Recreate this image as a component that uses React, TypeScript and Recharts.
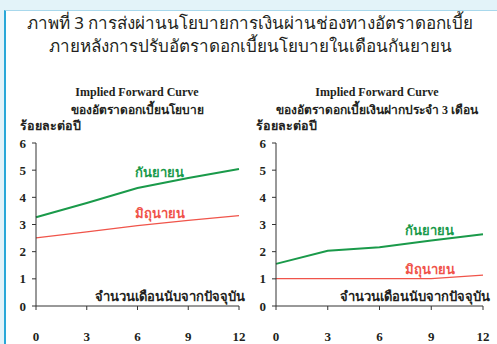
import React from "react";
import { LineChart, Line, XAxis, YAxis } from "recharts";

const months = [0, 3, 6, 9, 12];
const policySep = [3.27, 3.79, 4.34, 4.71, 5.04];
const policyJun = [2.51, 2.73, 2.96, 3.15, 3.33];
const depositSep = [1.55, 2.03, 2.16, 2.41, 2.64];
const depositJun = [1.01, 1.01, 1.01, 1.01, 1.14];
const yTicks = [0, 1, 2, 3, 4, 5, 6];
const xTicks = [0, 3, 6, 9, 12];

const titleLine1 = "ภาพที่ 3 การส่งผ่านนโยบายการเงินผ่านช่องทางอัตราดอกเบี้ย";
const titleLine2 = "ภายหลังการปรับอัตราดอกเบี้ยนโยบายในเดือนกันยายน";
const subTitleEn = "Implied Forward Curve";
const subTitleLeft = "ของอัตราดอกเบี้ยนโยบาย";
const subTitleRight = "ของอัตราดอกเบี้ยเงินฝากประจำ 3 เดือน";
const yUnit = "ร้อยละต่อปี";
const xUnit = "จำนวนเดือนนับจากปัจจุบัน";
const sepLabel = "กันยายน";
const junLabel = "มิถุนายน";

const GREEN = "#1a9a4a";
const RED = "#f0544a";
const TEXT = "#231f20";
const SERIF = "'Liberation Serif', 'DejaVu Serif', serif";

const build = (sep: number[], jun: number[]) =>
  months.map((m, i) => ({ m, sep: sep[i], jun: jun[i] }));

const abs = (
  left: number,
  top: number,
  extra: React.CSSProperties = {}
): React.CSSProperties => ({
  position: "absolute",
  left,
  top,
  whiteSpace: "nowrap",
  lineHeight: 1,
  ...extra,
});

function Panel({
  data,
  left,
  width,
  right,
}: {
  data: { m: number; sep: number; jun: number }[];
  left: number;
  width: number;
  right: number;
}) {
  return (
    <div style={{ position: "absolute", left, top: 0 }}>
      <LineChart
        width={width}
        height={344}
        data={data}
        margin={{ top: 143, right, bottom: 0, left: 0 }}
      >
        <XAxis
          dataKey="m"
          type="number"
          domain={[0, 12]}
          ticks={xTicks}
          height={38}
          tickSize={4}
          tickMargin={22}
          interval={0}
          stroke="#333"
          tick={{
            fill: TEXT,
            fontSize: 13,
            fontWeight: 700,
            fontFamily: SERIF,
          }}
        />
        <YAxis
          type="number"
          domain={[0, 6]}
          ticks={yTicks}
          width={36}
          tickSize={4}
          tickMargin={6}
          interval={0}
          stroke="#333"
          tick={{
            fill: TEXT,
            fontSize: 13,
            fontWeight: 700,
            fontFamily: SERIF,
          }}
        />
        <Line
          dataKey="sep"
          stroke={GREEN}
          strokeWidth={2}
          dot={false}
          isAnimationActive={false}
        />
        <Line
          dataKey="jun"
          stroke={RED}
          strokeWidth={1.3}
          dot={false}
          isAnimationActive={false}
        />
      </LineChart>
    </div>
  );
}

export default function App() {
  const subStyle: React.CSSProperties = {
    fontFamily: SERIF,
    fontWeight: 700,
    fontSize: 12,
    color: TEXT,
    transform: "translateX(-50%)",
  };
  const thaiBold: React.CSSProperties = {
    fontFamily: SERIF,
    fontWeight: 700,
    fontSize: 13,
  };
  return (
    <div
      style={{
        position: "absolute",
        left: 0,
        top: 0,
        width: 497,
        height: 344,
        background: "#e3f3f9",
        overflow: "hidden",
      }}
    >
      <div
        style={{
          position: "absolute",
          left: 4,
          top: 10,
          width: 497,
          height: 344,
          background: "#ffffff",
          borderLeft: "2px solid #2aa8d8",
          borderTop: "1px solid #a8d8ec",
        }}
      />
      <div
        style={abs(250, 14, {
          transform: "translateX(-50%)",
          fontFamily: "'Noto Sans', 'DejaVu Sans', sans-serif",
          fontSize: 17,
          color: TEXT,
        })}
      >
        {titleLine1}
      </div>
      <div
        style={abs(250, 37, {
          transform: "translateX(-50%)",
          fontFamily: "'Noto Sans', 'DejaVu Sans', sans-serif",
          fontSize: 17,
          color: TEXT,
        })}
      >
        {titleLine2}
      </div>

      <Panel data={build(policySep, policyJun)} left={0} width={250} right={11} />
      <Panel data={build(depositSep, depositJun)} left={240} width={257} right={14} />

      <div style={abs(137, 86, subStyle)}>{subTitleEn}</div>
      <div style={abs(137, 104, subStyle)}>{subTitleLeft}</div>
      <div style={abs(377, 86, subStyle)}>{subTitleEn}</div>
      <div style={abs(377, 104, subStyle)}>{subTitleRight}</div>

      <div style={abs(20, 120, { ...thaiBold, fontSize: 12.5, color: TEXT })}>{yUnit}</div>
      <div style={abs(256, 120, { ...thaiBold, fontSize: 12.5, color: TEXT })}>{yUnit}</div>

      <div style={abs(135, 166, { ...thaiBold, color: GREEN })}>{sepLabel}</div>
      <div style={abs(135, 207, { ...thaiBold, color: RED })}>{junLabel}</div>
      <div style={abs(405, 224, { ...thaiBold, color: GREEN })}>{sepLabel}</div>
      <div style={abs(405, 263, { ...thaiBold, color: RED })}>{junLabel}</div>

      <div style={abs(95, 290, { ...thaiBold, color: TEXT })}>{xUnit}</div>
      <div style={abs(340, 290, { ...thaiBold, color: TEXT })}>{xUnit}</div>
    </div>
  );
}
